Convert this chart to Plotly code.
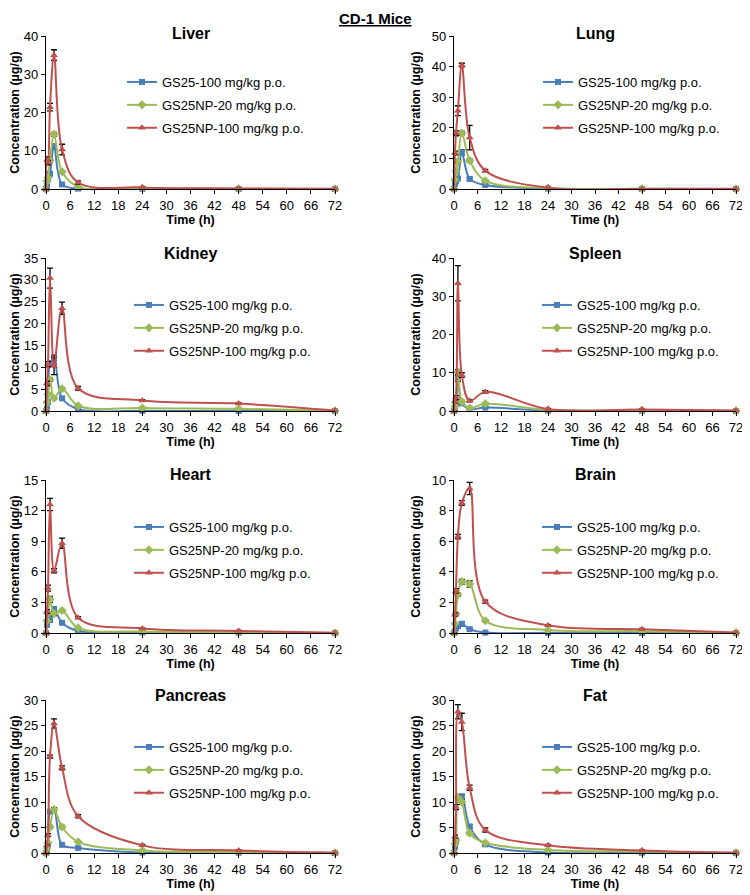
import plotly.graph_objects as go

# ---------------- data ----------------
TIME_H = [0, 0.25, 0.5, 1, 2, 4, 8, 24, 48, 72]
SERIES = ["GS25-100 mg/kg p.o.", "GS25NP-20 mg/kg p.o.", "GS25NP-100 mg/kg p.o."]
ORGANS = ["Liver", "Lung", "Kidney", "Spleen", "Heart", "Brain", "Pancreas", "Fat"]
X_TICKS = [0, 6, 12, 18, 24, 30, 36, 42, 48, 54, 60, 66, 72]
Y_MAX = [40, 50, 35, 40, 15, 10, 30, 30]
Y_STEP = [10, 10, 5, 10, 3, 2, 5, 5]

LIVER_GS25_100 = [0, 1.0, 2.5, 4.0, 11.1, 1.2, 0.1, 0.03, 0.01, 0]
LIVER_NP_20 = [0, 2.0, 3.0, 7.5, 14.3, 4.5, 0.6, 0.2, 0.05, 0]
LIVER_NP_100 = [0, 7.6, 6.9, 21.4, 35.0, 10.3, 1.7, 0.4, 0.15, 0.05]
LIVER_GS25_100_ERR = [0, 0.2, 0.3, 0.5, 0.6, 0.2, 0.05, 0, 0, 0]
LIVER_NP_20_ERR = [0, 0.2, 0.3, 0.4, 0.5, 0.3, 0.1, 0, 0, 0]
LIVER_NP_100_ERR = [0, 0.8, 0.6, 1.0, 1.4, 1.4, 0.4, 0.1, 0.05, 0]

LUNG_GS25_100 = [0, 1.7, 2.5, 3.4, 12.0, 3.3, 1.3, 0.1, 0.02, 0]
LUNG_NP_20 = [0, 3.0, 5.8, 9.0, 18.3, 9.3, 2.7, 0.3, 0.05, 0]
LUNG_NP_100 = [0, 11.8, 18.2, 25.6, 40.5, 16.8, 6.0, 0.4, 0.1, 0.05]
LUNG_GS25_100_ERR = [0, 0.2, 0.3, 0.4, 0.8, 0.4, 0.2, 0, 0, 0]
LUNG_NP_20_ERR = [0, 0.3, 0.4, 0.6, 0.6, 0.5, 0.3, 0, 0, 0]
LUNG_NP_100_ERR = [0, 0.6, 0.8, 1.6, 0.6, 4.0, 0.4, 0.1, 0.05, 0]

KIDNEY_GS25_100 = [0, 0.5, 2.0, 10.8, 11.8, 2.9, 0.4, 0.05, 0.03, 0]
KIDNEY_NP_20 = [0, 2.0, 3.8, 7.2, 2.9, 5.1, 1.2, 0.7, 0.5, 0.05]
KIDNEY_NP_100 = [0, 6.3, 10.7, 30.4, 10.3, 23.5, 5.2, 2.4, 1.7, 0.1]
KIDNEY_GS25_100_ERR = [0, 0.1, 0.3, 0.6, 1.0, 0.3, 0.1, 0, 0, 0]
KIDNEY_NP_20_ERR = [0, 0.2, 0.3, 0.4, 0.2, 0.3, 0.1, 0.05, 0.05, 0]
KIDNEY_NP_100_ERR = [0, 0.5, 0.6, 2.3, 2.0, 1.4, 0.4, 0.2, 0.2, 0]

SPLEEN_GS25_100 = [0, 0.8, 2.0, 8.5, 2.0, 0.5, 0.9, 0.1, 0.05, 0]
SPLEEN_NP_20 = [0, 1.2, 2.5, 10.2, 2.5, 0.8, 1.9, 0.3, 0.2, 0.05]
SPLEEN_NP_100 = [0, 2.5, 3.5, 33.4, 9.4, 2.7, 5.0, 0.5, 0.4, 0.1]
SPLEEN_GS25_100_ERR = [0, 0.1, 0.3, 0.8, 0.3, 0.1, 0.1, 0, 0, 0]
SPLEEN_NP_20_ERR = [0, 0.2, 0.3, 0.6, 0.3, 0.1, 0.2, 0, 0, 0]
SPLEEN_NP_100_ERR = [0, 0.4, 0.5, 4.6, 0.6, 0.3, 0.3, 0.1, 0.1, 0]

HEART_GS25_100 = [0, 0.8, 1.5, 1.3, 2.35, 1.0, 0.2, 0.05, 0.02, 0]
HEART_NP_20 = [0, 1.2, 1.9, 3.3, 1.9, 2.2, 0.5, 0.15, 0.08, 0]
HEART_NP_100 = [0, 2.1, 4.4, 12.6, 6.1, 8.8, 1.5, 0.45, 0.2, 0.02]
HEART_GS25_100_ERR = [0, 0.1, 0.1, 0.2, 0.2, 0.1, 0.05, 0, 0, 0]
HEART_NP_20_ERR = [0, 0.1, 0.1, 0.3, 0.2, 0.1, 0.05, 0, 0, 0]
HEART_NP_100_ERR = [0, 0.2, 0.3, 0.6, 0.2, 0.5, 0.1, 0.05, 0.05, 0]

BRAIN_GS25_100 = [0, 0.1, 0.3, 0.45, 0.6, 0.25, 0.03, 0.01, 0.0, 0]
BRAIN_NP_20 = [0, 0.6, 1.25, 2.5, 3.35, 3.2, 0.8, 0.2, 0.12, 0.02]
BRAIN_NP_100 = [0, 1.2, 2.75, 6.3, 8.5, 9.45, 2.05, 0.5, 0.25, 0.03]
BRAIN_GS25_100_ERR = [0, 0.02, 0.05, 0.1, 0.15, 0.05, 0.01, 0, 0, 0]
BRAIN_NP_20_ERR = [0, 0.05, 0.1, 0.1, 0.15, 0.2, 0.05, 0.02, 0.02, 0]
BRAIN_NP_100_ERR = [0, 0.1, 0.15, 0.15, 0.15, 0.4, 0.1, 0.05, 0.05, 0]

PANCREAS_GS25_100 = [0, 0.5, 1.5, 8.1, 8.4, 1.6, 1.0, 0.1, 0.05, 0]
PANCREAS_NP_20 = [0, 1.0, 2.0, 5.1, 8.5, 5.1, 2.2, 0.5, 0.2, 0.05]
PANCREAS_NP_100 = [0, 1.5, 3.5, 18.9, 25.4, 16.7, 7.2, 1.5, 0.5, 0.05]
PANCREAS_GS25_100_ERR = [0, 0.1, 0.2, 0.3, 0.3, 0.2, 0.1, 0, 0, 0]
PANCREAS_NP_20_ERR = [0, 0.1, 0.2, 0.3, 0.4, 0.3, 0.1, 0.05, 0, 0]
PANCREAS_NP_100_ERR = [0, 0.2, 0.3, 0.3, 0.9, 0.4, 0.3, 0.2, 0.1, 0]

FAT_GS25_100 = [0, 1.2, 2.5, 10.6, 11.1, 5.2, 1.7, 0.1, 0.05, 0]
FAT_NP_20 = [0, 1.8, 2.5, 10.9, 10.0, 3.9, 2.0, 0.6, 0.3, 0.05]
FAT_NP_100 = [0, 3.2, 9.0, 27.7, 25.7, 12.8, 4.5, 1.5, 0.5, 0.05]
FAT_GS25_100_ERR = [0, 0.2, 0.3, 0.5, 0.4, 0.3, 0.2, 0, 0, 0]
FAT_NP_20_ERR = [0, 0.2, 0.3, 0.4, 0.4, 0.3, 0.2, 0.05, 0, 0]
FAT_NP_100_ERR = [0, 0.3, 0.5, 1.4, 1.7, 0.5, 0.4, 0.2, 0.1, 0]

VALUES = [
    (LIVER_GS25_100, LIVER_NP_20, LIVER_NP_100),
    (LUNG_GS25_100, LUNG_NP_20, LUNG_NP_100),
    (KIDNEY_GS25_100, KIDNEY_NP_20, KIDNEY_NP_100),
    (SPLEEN_GS25_100, SPLEEN_NP_20, SPLEEN_NP_100),
    (HEART_GS25_100, HEART_NP_20, HEART_NP_100),
    (BRAIN_GS25_100, BRAIN_NP_20, BRAIN_NP_100),
    (PANCREAS_GS25_100, PANCREAS_NP_20, PANCREAS_NP_100),
    (FAT_GS25_100, FAT_NP_20, FAT_NP_100),
]
ERRORS = [
    (LIVER_GS25_100_ERR, LIVER_NP_20_ERR, LIVER_NP_100_ERR),
    (LUNG_GS25_100_ERR, LUNG_NP_20_ERR, LUNG_NP_100_ERR),
    (KIDNEY_GS25_100_ERR, KIDNEY_NP_20_ERR, KIDNEY_NP_100_ERR),
    (SPLEEN_GS25_100_ERR, SPLEEN_NP_20_ERR, SPLEEN_NP_100_ERR),
    (HEART_GS25_100_ERR, HEART_NP_20_ERR, HEART_NP_100_ERR),
    (BRAIN_GS25_100_ERR, BRAIN_NP_20_ERR, BRAIN_NP_100_ERR),
    (PANCREAS_GS25_100_ERR, PANCREAS_NP_20_ERR, PANCREAS_NP_100_ERR),
    (FAT_GS25_100_ERR, FAT_NP_20_ERR, FAT_NP_100_ERR),
]

# ---------------- styling / layout ----------------
W, H = 750, 895
PAGE_OFFSET = 8  # the page's default body margin shifts the figure by this much
FONT = "Arial, 'Liberation Sans', sans-serif"
COLORS = ["#4A7EBB", "#9BBB59", "#C0504D"]
SYMBOLS = ["square", "diamond", "triangle-up"]
SIZES = [6, 7, 7]

# positions below are in screenshot pixels
COL_PX = [(46, 335), (454, 736)]
ROW_PX = [(36, 189), (258, 411), (480, 633), (700, 853)]
TITLE_Y_PX = [33, 253, 474, 695]
LEG_TEXT_X_PX = [[163, 579], [170, 578], [170, 578], [170, 578]]
LEG_ROW1_Y_PX = [82, 305, 527, 747]


def px_x(p):
    return (p - PAGE_OFFSET) / W


def px_y(p):
    return 1 - (p - PAGE_OFFSET) / H


fig = go.Figure()
layout = dict(
    width=W, height=H, margin=dict(l=0, r=0, t=0, b=0, autoexpand=False),
    paper_bgcolor="white", plot_bgcolor="white",
    font=dict(family=FONT, size=13, color="black"),
    showlegend=True,
)
annotations = []

for i, organ in enumerate(ORGANS):
    row, col = divmod(i, 2)
    k = i + 1
    xa = "x" if k == 1 else f"x{k}"
    ya = "y" if k == 1 else f"y{k}"
    leg = "legend" if k == 1 else f"legend{k}"
    for s in range(3):
        fig.add_trace(go.Scatter(
            x=TIME_H, y=VALUES[i][s], name=SERIES[s],
            mode="lines+markers",
            line=dict(color=COLORS[s], width=2, shape="spline", smoothing=1.0),
            marker=dict(symbol=SYMBOLS[s], size=SIZES[s], color=COLORS[s]),
            error_y=dict(type="data", array=ERRORS[i][s], visible=True,
                         color="black", thickness=1.3, width=3),
            cliponaxis=False,
            xaxis=xa, yaxis=ya, legend=leg, legendgroup=f"{organ}{s}",
        ))
    x0, x1 = COL_PX[col]
    yt, yb = ROW_PX[row]
    axis_common = dict(showline=True, linecolor="black", linewidth=1.3,
                       ticks="outside", ticklen=4, tickcolor="black",
                       showgrid=False, zeroline=False, automargin=False,
                       tickfont=dict(family=FONT, size=13, color="black"))
    layout["xaxis" if k == 1 else f"xaxis{k}"] = dict(
        domain=[px_x(x0), px_x(x1)], anchor=ya, range=[0, 72],
        tickvals=X_TICKS, ticktext=[str(t) for t in X_TICKS],
        title=dict(text="<b>Time (h)</b>", font=dict(family=FONT, size=12.5), standoff=1),
        **axis_common)
    layout["yaxis" if k == 1 else f"yaxis{k}"] = dict(
        domain=[px_y(yb), px_y(yt)], anchor=xa, range=[0, Y_MAX[i]],
        tick0=0, dtick=Y_STEP[i],
        title=dict(text="<b>Concentration (µg/g)</b>", font=dict(family=FONT, size=12.5), standoff=8),
        **axis_common)
    layout[leg] = dict(
        x=px_x(LEG_TEXT_X_PX[row][col] - 41), xanchor="left",
        y=px_y(LEG_ROW1_Y_PX[row] - 15), yanchor="top",
        bgcolor="rgba(0,0,0,0)", borderwidth=0,
        font=dict(family=FONT, size=13, color="black"),
        traceorder="grouped", tracegroupgap=3,
    )
    annotations.append(dict(
        text=f"<b>{organ}</b>", x=px_x((x0 + x1) / 2), y=px_y(TITLE_Y_PX[row]),
        xref="paper", yref="paper", xanchor="center", yanchor="middle",
        showarrow=False, font=dict(family=FONT, size=16, color="black")))

annotations.append(dict(
    text="<b>CD-1 Mice</b>", x=px_x(375), y=1.0, xref="paper", yref="paper",
    xanchor="center", yanchor="top", showarrow=False,
    font=dict(family=FONT, size=15, color="black", lineposition="under")))
layout["annotations"] = annotations
fig.update_layout(**layout)
fig.write_html("out.html")
